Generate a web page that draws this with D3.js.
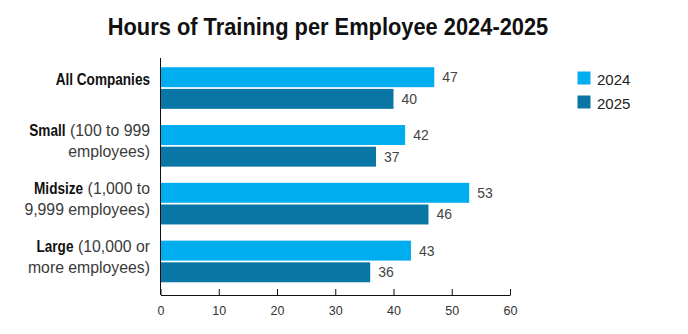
<!DOCTYPE html>
<html>
<head>
<meta charset="utf-8">
<script src="https://cdn.jsdelivr.net/npm/d3@7"></script>
<style>
  html, body { margin: 0; padding: 0; background: #fff; }
  svg { display: block; }
</style>
</head>
<body>
<div id="chart"></div>
<script>
// hours of training per employee, by company size
const CATEGORIES = ["All Companies", "Small", "Midsize", "Large"];
const LABEL_NOTES = ["", "(100 to 999", "(1,000 to", "(10,000 or"];
const LABEL_SECOND = ["", "employees)", "9,999 employees)", "more employees)"];
const SERIES = ["2024", "2025"];
const HOURS_2024 = [47, 42, 53, 43];
const HOURS_2025 = [40, 37, 46, 36];
const X_TICKS = [0, 10, 20, 30, 40, 50, 60];

(function () {
  const WIDTH = 688, HEIGHT = 334;
  const COLORS = ["#00aeef", "#0a76a5"];
  const FONT = "'Liberation Sans', Arial, sans-serif";
  const BOLD_SQUEEZE = 0.8;   // condensed look for bold label text
  const LIGHT_SQUEEZE = 0.93;
  const TITLE_SQUEEZE = 0.91;
  const LABEL_RIGHT = 150;

  const svg = d3.select("#chart").append("svg")
    .attr("width", WIDTH)
    .attr("height", HEIGHT)
    .style("font-family", FONT);

  const x = d3.scaleLinear().domain([0, 60]).range([160.5, 510]);
  const y = d3.scaleBand().domain(CATEGORIES).range([58, 295])
    .paddingInner(0.28).paddingOuter(0.19).align(0.42);
  const ySub = d3.scaleBand().domain(SERIES).range([0, y.bandwidth()]).paddingInner(0.08);
  const color = d3.scaleOrdinal(SERIES, COLORS);

  const rows = CATEGORIES.map((c, i) => ({
    cat: c,
    values: [
      { year: SERIES[0], v: HOURS_2024[i] },
      { year: SERIES[1], v: HOURS_2025[i] }
    ]
  }));

  // title
  svg.append("g")
    .attr("transform", `translate(328,35) scale(${TITLE_SQUEEZE},1)`)
    .append("text")
    .attr("text-anchor", "middle")
    .attr("font-size", 24)
    .attr("font-weight", 700)
    .attr("fill", "#111")
    .text("Hours of Training per Employee 2024-2025");

  // bars
  const groups = svg.append("g").selectAll("g")
    .data(rows)
    .join("g")
    .attr("transform", d => `translate(0,${y(d.cat)})`);

  groups.selectAll("rect")
    .data(d => d.values)
    .join("rect")
    .attr("x", x(0))
    .attr("y", d => ySub(d.year))
    .attr("width", d => x(d.v) - x(0))
    .attr("height", ySub.bandwidth())
    .attr("fill", d => color(d.year));

  groups.selectAll("text.value")
    .data(d => d.values)
    .join("text")
    .attr("class", "value")
    .attr("x", d => x(d.v) + 8)
    .attr("y", d => ySub(d.year) + ySub.bandwidth() / 2 + 5)
    .attr("font-size", 14)
    .attr("fill", "#444")
    .text(d => d.v);

  // x axis with ticks pointing up
  const xAxis = svg.append("g")
    .attr("transform", "translate(0,295)")
    .call(d3.axisBottom(x).tickValues(X_TICKS).tickSizeInner(-6).tickSizeOuter(0).tickPadding(11));
  xAxis.select(".domain").attr("stroke", "#111");
  xAxis.selectAll(".tick line").attr("stroke", "#111");
  xAxis.selectAll(".tick text")
    .attr("font-family", FONT)
    .attr("font-size", 12.5)
    .attr("fill", "#333");

  // vertical baseline
  svg.append("line")
    .attr("x1", x(0)).attr("x2", x(0))
    .attr("y1", 58).attr("y2", 295)
    .attr("stroke", "#111");

  // category labels: bold name plus light note, right aligned
  function labelLine(parent, baseline, bold, light) {
    const g = parent.append("g").attr("transform", `translate(${LABEL_RIGHT},${baseline})`);
    let offset = 0;
    if (light) {
      const t = g.append("g")
        .attr("transform", `scale(${LIGHT_SQUEEZE},1)`)
        .append("text")
        .attr("text-anchor", "end")
        .attr("font-size", 17)
        .attr("fill", "#3a3a3a")
        .text(light);
      offset = t.node().getComputedTextLength() * LIGHT_SQUEEZE + 4.5;
    }
    if (bold) {
      g.append("g")
        .attr("transform", `translate(${-offset},0) scale(${BOLD_SQUEEZE},1)`)
        .append("text")
        .attr("text-anchor", "end")
        .attr("font-size", 17)
        .attr("font-weight", 700)
        .attr("fill", "#111")
        .text(bold);
    }
  }

  const labels = svg.append("g");
  CATEGORIES.forEach((c, i) => {
    const mid = y(c) + y.bandwidth() / 2;
    if (LABEL_SECOND[i]) {
      labelLine(labels, mid - 9.5, c, LABEL_NOTES[i]);
      labelLine(labels, mid + 11.5, "", LABEL_SECOND[i]);
    } else {
      labelLine(labels, mid - 3, c, LABEL_NOTES[i]);
    }
  });

  // legend
  const legend = svg.append("g").attr("transform", "translate(577.5,71.5)")
    .selectAll("g")
    .data(SERIES)
    .join("g")
    .attr("transform", (d, i) => `translate(0,${i * 24})`);
  legend.append("rect")
    .attr("width", 13).attr("height", 13)
    .attr("fill", d => color(d));
  legend.append("text")
    .attr("x", 19.5).attr("y", 13)
    .attr("font-size", 15)
    .attr("fill", "#222")
    .text(d => d);
})();
</script>
</body>
</html>
